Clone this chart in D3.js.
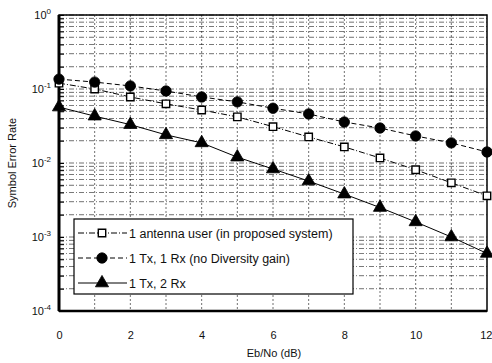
<!DOCTYPE html>
<html><head><meta charset="utf-8">
<script src="https://cdn.jsdelivr.net/npm/d3@7"></script>
<style>body{margin:0;background:#fff}svg{display:block;font-family:"Liberation Sans",Arial,sans-serif}</style>
</head><body><svg id="c" width="492" height="363"></svg>
<script>
const ebno = [0,1,2,3,4,5,6,7,8,9,10,11,12];
const antennaUser = [0.12,0.10,0.078,0.063,0.052,0.042,0.031,0.0225,0.0165,0.0117,0.0081,0.0054,0.0036];
const noDiversity = [0.136,0.124,0.110,0.094,0.078,0.067,0.055,0.046,0.0358,0.0297,0.0232,0.0187,0.0141];
const twoRx = [0.057,0.043,0.033,0.024,0.0187,0.012,0.0083,0.0057,0.0038,0.0025,0.0016,0.001,0.0006];
const xTickLabels = [0,2,4,6,8,10,12];
const yDecades = [0,-1,-2,-3,-4];
const seriesNames = ["1 antenna user (in proposed system)","1 Tx, 1 Rx (no Diversity gain)","1 Tx, 2 Rx"];

const svg = d3.select("#c");
const m = {l:59,r:5,t:15,b:52};
const W = 492, H = 363;
const x = d3.scaleLinear().domain([0,12]).range([m.l, W-m.r]);
const y = d3.scaleLog().domain([1e-4,1]).range([H-m.b, m.t]);

const g = svg.append("g");
// grid
const minor = [];
for (let e=-4;e<0;e++) for (let k=1;k<10;k++) minor.push(k*Math.pow(10,e));
minor.push(1);
g.selectAll(".hg").data(minor).enter().append("line")
 .attr("x1",x(0)).attr("x2",x(12)).attr("y1",d=>y(d)).attr("y2",d=>y(d))
 .attr("stroke","#111").attr("stroke-width",0.8).attr("stroke-dasharray","5,2,1,2").attr("opacity",0.75);
g.selectAll(".vg").data(d3.range(1,12)).enter().append("line")
 .attr("x1",d=>x(d)).attr("x2",d=>x(d)).attr("y1",y(1)).attr("y2",y(1e-4))
 .attr("stroke","#111").attr("stroke-width",0.8).attr("stroke-dasharray","2,2").attr("opacity",0.75);

// frame
g.append("rect").attr("x",x(0)).attr("y",y(1)).attr("width",x(12)-x(0)).attr("height",y(1e-4)-y(1))
 .attr("fill","none").attr("stroke","#000").attr("stroke-width",1.5);
g.append("line").attr("x1",x(0)).attr("x2",x(0)).attr("y1",y(1)).attr("y2",y(1e-4)).attr("stroke","#000").attr("stroke-width",3);
g.append("line").attr("x1",x(0)).attr("x2",x(12)).attr("y1",y(1e-4)).attr("y2",y(1e-4)).attr("stroke","#000").attr("stroke-width",2.5);

// axes (ticks inward)
const yAxis = d3.axisLeft(y).tickValues(minor).tickSize(-5).tickFormat("");
const ya = svg.append("g").attr("transform",`translate(${x(0)},0)`).call(yAxis);
ya.select(".domain").remove();
ya.selectAll("line").attr("stroke","#000");

// y labels
const yl = svg.append("g");
yDecades.forEach(e=>{
  const t = yl.append("text").attr("x",x(0)-8).attr("y",y(Math.pow(10,e))+4)
    .attr("text-anchor","end").attr("font-size",11).attr("fill","#111");
  t.append("tspan").text("10");
  t.append("tspan").attr("dy",-5).attr("font-size",8).text(e);
});
// x labels
const xAxis = d3.axisBottom(x).tickValues(xTickLabels).tickSize(0).tickPadding(0).tickFormat(d3.format("d"));
const xa = svg.append("g").attr("transform",`translate(0,${H-m.b+20})`).call(xAxis);
xa.select(".domain").remove();
xa.selectAll("text").attr("font-size",11).attr("fill","#111").attr("font-family","Liberation Sans,Arial,sans-serif");
xa.selectAll("text").filter(d=>d===12).attr("text-anchor","end").attr("dx",5);

svg.append("text").attr("x",(x(0)+x(12))/2+1).attr("y",357).attr("text-anchor","middle")
 .attr("font-size",11).attr("fill","#111").text("Eb/No (dB)");
svg.append("text").attr("transform",`translate(16,${(y(1)+y(1e-4))/2}) rotate(-90)`).attr("text-anchor","middle")
 .attr("font-size",11).attr("fill","#111").text("Symbol Error Rate");

// series
const series = [
 {vals:antennaUser, dash:"6,2,1,2", marker:"square"},
 {vals:noDiversity, dash:"5,3", marker:"circle"},
 {vals:twoRx, dash:null, marker:"triangle"}
];
const line = d3.line().x((d,i)=>x(ebno[i])).y(d=>y(d));
const sym = {square:d3.symbolSquare, circle:d3.symbolCircle, triangle:d3.symbolTriangle};
const size = {square:55, circle:85, triangle:75};
function marker(sel, kind){
  sel.attr("d", d3.symbol().type(sym[kind]).size(size[kind]))
   .attr("fill", kind==="square" ? "#fff" : "#000")
   .attr("stroke","#000").attr("stroke-width", kind==="square"?1.4:0.8);
}
series.forEach(s=>{
  g.append("path").datum(s.vals).attr("d",line).attr("fill","none").attr("stroke","#000")
   .attr("stroke-width",1).attr("stroke-dasharray",s.dash);
});
series.forEach(s=>{
  g.selectAll(null).data(s.vals).enter().append("path")
   .attr("transform",(d,i)=>`translate(${x(ebno[i])},${y(d)})`).call(marker,s.marker);
});

// legend
const lg = svg.append("g");
lg.append("rect").attr("x",74).attr("y",219).attr("width",279).attr("height",75)
  .attr("fill","#fff").attr("stroke","#000").attr("stroke-width",1.2);
series.forEach((s,i)=>{
  const yy = 233 + i*25;
  lg.append("line").attr("x1",78).attr("x2",127).attr("y1",yy).attr("y2",yy)
    .attr("stroke","#000").attr("stroke-width",1).attr("stroke-dasharray",s.dash);
  lg.append("path").attr("transform",`translate(102,${yy})`).call(marker,s.marker);
  lg.append("text").attr("x",129).attr("y",yy+4.5).attr("font-size",12.5).attr("fill","#111").text(seriesNames[i]);
});
</script></body></html>
